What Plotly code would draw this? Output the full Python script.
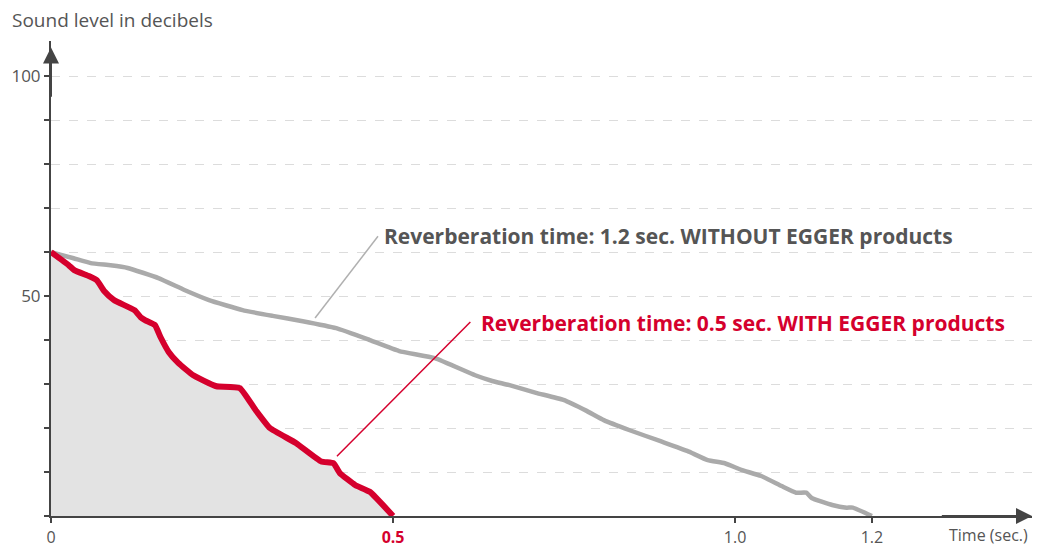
import plotly.graph_objects as go

# ---- data ----
red_t = [0, 0.026, 0.034, 0.056, 0.067, 0.078, 0.092, 0.122, 0.131, 0.138, 0.152, 0.160,
         0.172, 0.186, 0.208, 0.231, 0.242, 0.276, 0.299, 0.320, 0.358, 0.395, 0.413,
         0.422, 0.445, 0.466, 0.500]
red_db = [60, 57.0, 55.9, 54.5, 53.6, 51.1, 49.1, 46.8, 45.2, 44.5, 43.4, 40.7,
          37.3, 34.8, 32.0, 30.2, 29.5, 29.1, 24.1, 20.0, 16.6, 12.4, 12.0,
          9.8, 7.0, 5.5, 0]

gray_t = [0, 0.033, 0.058, 0.087, 0.112, 0.157, 0.195, 0.231, 0.280, 0.324, 0.368, 0.417,
          0.466, 0.509, 0.561, 0.620, 0.645, 0.669, 0.709, 0.749, 0.783, 0.808, 0.846,
          0.891, 0.930, 0.960, 0.985, 1.009, 1.038, 1.068, 1.089, 1.104, 1.112, 1.142,
          1.163, 1.172, 1.200]
gray_db = [60, 58.6, 57.5, 57.0, 56.4, 54.1, 51.4, 49.1, 46.8, 45.5, 44.3, 42.7,
           40.0, 37.5, 35.9, 32.0, 30.7, 29.8, 28.0, 26.4, 23.9, 21.8, 19.5,
           17.0, 14.8, 12.7, 12.0, 10.5, 9.1, 6.8, 5.3, 5.3, 4.1, 2.5,
           1.9, 1.9, 0]

x_tickvals = [0, 0.5, 1.0, 1.2]
x_ticktext = ["0", "<b><span style='color:#d5002d'>0.5</span></b>", "1.0", "1.2"]
y_tickvals = [0, 10, 20, 30, 40, 50, 60, 70, 80, 90, 100]
y_ticktext = ["", "", "", "", "", "50", "", "", "", "", "100"]

label_gray = "Reverberation time: 1.2 sec. WITHOUT EGGER products"
label_red = "Reverberation time: 0.5 sec. WITH EGGER products"
title_text = "Sound level in decibels"
xlabel_text = "Time (sec.)"

RED = "#d5002d"
GRAY = "#aaaaaa"
TXT = "#555555"
AX = "#444444"
FONT = "Open Sans"

X_MAX = 1.434
Y_MAX = 108

fig = go.Figure()
fig.add_trace(go.Scatter(x=gray_t, y=gray_db, mode="lines",
                         line=dict(color=GRAY, width=4.5, shape="spline", smoothing=0.4),
                         hoverinfo="skip"))
fig.add_trace(go.Scatter(x=red_t, y=red_db, mode="lines", fill="tozeroy",
                         fillcolor="#e3e3e3",
                         line=dict(color=RED, width=6, shape="spline", smoothing=0.4),
                         hoverinfo="skip"))

# leader lines
fig.add_shape(type="line", x0=0.386, y0=45.0, x1=0.478, y1=63.6,
              line=dict(color="#b0b0b0", width=1.5))
fig.add_shape(type="line", x0=0.418, y0=13.6, x1=0.613, y1=44.1,
              line=dict(color=RED, width=1.5))

fig.add_annotation(x=0.484, y=63.6, text="<b>" + label_gray + "</b>", showarrow=False,
                   xanchor="left", yanchor="middle",
                   font=dict(family=FONT, size=21, color=TXT))
fig.add_annotation(x=0.625, y=43.9, text="<b>" + label_red + "</b>", showarrow=False,
                   xanchor="left", yanchor="middle",
                   font=dict(family=FONT, size=21, color=RED))

# axis arrows
fig.add_annotation(x=X_MAX, y=0, ax=1.3, ay=0, axref="x", ayref="y", xref="x", yref="y",
                   text="", showarrow=True, arrowhead=2, arrowsize=1.6, arrowwidth=2,
                   arrowcolor=AX)
fig.add_annotation(x=0, y=106.5, ax=0, ay=95, axref="x", ayref="y", xref="x", yref="y",
                   text="", showarrow=True, arrowhead=2, arrowsize=1.6, arrowwidth=2,
                   arrowcolor=AX)

fig.add_annotation(x=1.431, y=-19 / 475, xref="x", yref="paper", text=xlabel_text,
                   showarrow=False, xanchor="right", yanchor="middle",
                   font=dict(family=FONT, size=16, color=TXT))

fig.update_layout(
    width=1054, height=547,
    margin=dict(l=51, r=22, t=41, b=31),
    paper_bgcolor="white", plot_bgcolor="white",
    showlegend=False,
    font=dict(family=FONT, size=16, color=TXT),
    title=dict(text=title_text, x=12 / 1054, xanchor="left", y=1 - 20 / 547,
               yanchor="middle", font=dict(family=FONT, size=19, color=TXT)),
    xaxis=dict(range=[0, X_MAX], tickvals=x_tickvals, ticktext=x_ticktext,
               showgrid=False, zeroline=False, showline=True, linecolor=AX, linewidth=2,
               ticks="outside", ticklen=5, tickwidth=1.5, tickcolor=AX,
               ticklabelstandoff=1, automargin=False,
               tickfont=dict(family=FONT, size=16, color=TXT), fixedrange=True),
    yaxis=dict(range=[0, Y_MAX], tickvals=y_tickvals, ticktext=y_ticktext,
               showgrid=True, gridcolor="#dcdcdc", griddash="dash", gridwidth=1,
               zeroline=False, showline=True, linecolor=AX, linewidth=2,
               ticks="outside", ticklen=5, tickwidth=1.5, tickcolor=AX,
               automargin=False,
               tickfont=dict(family=FONT, size=17, color=TXT), fixedrange=True),
)

fig.write_html("out.html", config={"displayModeBar": False},
               post_script="document.body.style.margin='0px';"
                           "document.body.style.overflow='hidden';")
